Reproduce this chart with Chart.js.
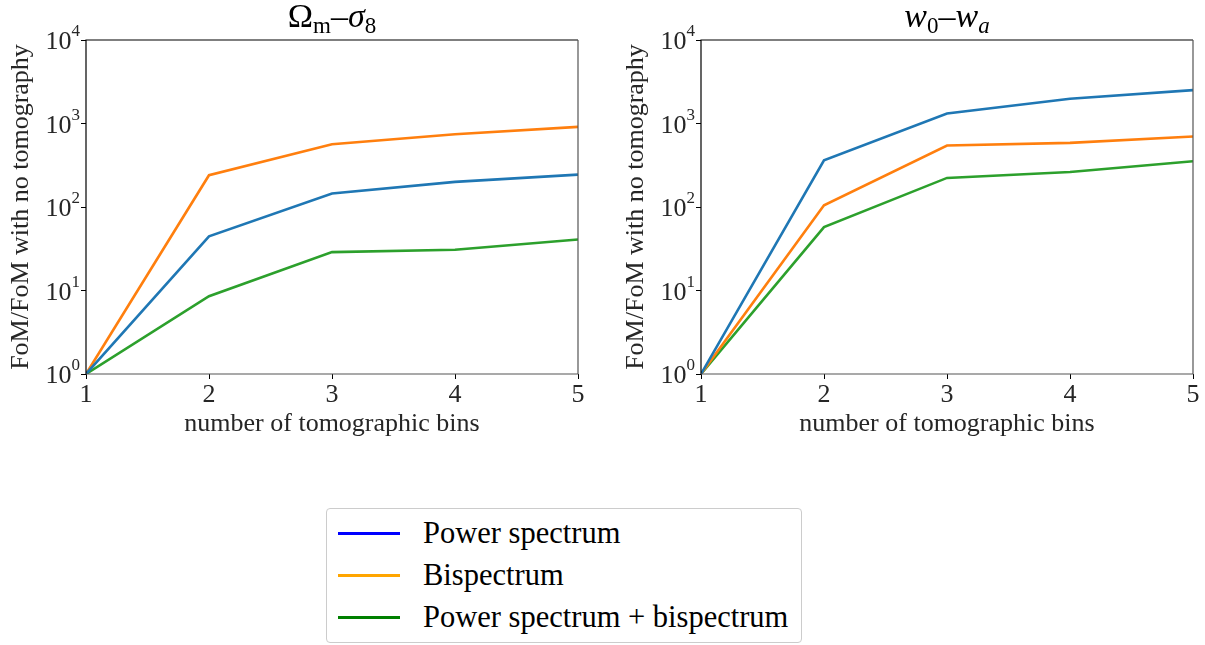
<!DOCTYPE html>
<html>
<head>
<meta charset="utf-8">
<script src="https://cdn.jsdelivr.net/npm/chart.js@4.4.1/dist/chart.umd.min.js"></script>
<style>
  html, body { margin: 0; padding: 0; background: #fff; width: 1205px; height: 645px; overflow: hidden; }
  .wrap { position: absolute; top: 0; width: 600px; height: 450px; }
  #legend { position: absolute; left: 326px; top: 508px; width: 474px; height: 133px;
    border: 1px solid #cccccc; border-radius: 4px; background: #fff;
    font-family: "Liberation Serif", "DejaVu Serif", serif; font-size: 30.5px; color: #000; }
  .row { position: absolute; left: 0; height: 32px; }
  .row .ln { position: absolute; left: 11px; width: 62px; height: 3px; top: 15px; }
  .row .tx { position: absolute; left: 96px; top: 0; white-space: nowrap; line-height: 32px; }
</style>
</head>
<body>
<div class="wrap" style="left:0px"><canvas id="c1" width="600" height="450"></canvas></div>
<div class="wrap" style="left:605px"><canvas id="c2" width="600" height="450"></canvas></div>
<div id="legend"></div>
<script>
// ---- data ----
const bins = [1, 2, 3, 4, 5];
const seriesNames = ["Power spectrum", "Bispectrum", "Power spectrum + bispectrum"];
const lineColors = ["#1f77b4", "#ff7f0e", "#2ca02c"];
const legendColors = ["#0000ff", "#ffa500", "#008000"];
const omPower = [1, 44.5, 145, 200, 244];
const omBi    = [1, 240, 565, 745, 912];
const omBoth  = [1, 8.55, 28.8, 30.8, 40.9];
const wPower  = [1, 363, 1318, 1977, 2512];
const wBi     = [1, 105, 545, 586, 698];
const wBoth   = [1, 57.5, 223, 263, 353];
const yTicks  = [1, 10, 100, 1000, 10000];
const yExps   = ["0", "1", "2", "3", "4"];
const xLabel = "number of tomographic bins";
const yLabel = "FoM/FoM with no tomography";
const title1 = [{t:"Ω"},{t:"m",sub:true},{t:"–"},{t:"σ",it:true},{t:"8",sub:true}];
const title2 = [{t:"w",it:true},{t:"0",sub:true},{t:"–"},{t:"w",it:true},{t:"a",sub:true,it:true}];

const FONT = '"Liberation Serif", "DejaVu Serif", serif';

function mkData(vals) {
  return vals.map((v, i) => ({ x: bins[i], y: v }));
}

const decoPlugin = {
  id: 'deco',
  afterDraw(chart, args, opts) {
    const ctx = chart.ctx;
    const a = chart.chartArea;
    const ys = chart.scales.y;
    ctx.save();
    // frame
    ctx.lineWidth = 1.2;
    ctx.strokeStyle = '#000';
    ctx.beginPath();
    ctx.moveTo(a.left, a.bottom); ctx.lineTo(a.left, a.top); ctx.lineTo(a.right, a.top);
    ctx.stroke();
    ctx.strokeStyle = '#555';
    ctx.beginPath();
    ctx.moveTo(a.right, a.top); ctx.lineTo(a.right, a.bottom); ctx.lineTo(a.left, a.bottom);
    ctx.stroke();
    // y tick labels 10^n
    ctx.fillStyle = '#262626';
    ctx.textBaseline = 'alphabetic';
    ys.ticks.forEach((tk) => {
      const py = ys.getPixelForValue(tk.value);
      const exp = yExps[yTicks.indexOf(tk.value)];
      if (exp === undefined) return;
      ctx.font = '17px ' + FONT;
      const ew = ctx.measureText(exp).width;
      ctx.font = '26px ' + FONT;
      const bw = ctx.measureText('10').width;
      const right = a.left - 6;
      ctx.fillText('10', right - ew - bw, py + 9);
      ctx.font = '17px ' + FONT;
      ctx.fillText(exp, right - ew, py - 4);
    });
    // title
    const pieces = opts.pieces;
    let total = 0;
    const fontOf = p => (p.it ? 'italic ' : '') + (p.sub ? '23px ' : '34px ') + FONT;
    pieces.forEach(p => { ctx.font = fontOf(p); p.w = ctx.measureText(p.t).width; total += p.w; });
    let x = (a.left + a.right) / 2 - total / 2;
    const base = 27;
    ctx.fillStyle = '#000';
    pieces.forEach(p => {
      ctx.font = fontOf(p);
      ctx.fillText(p.t, x, p.sub ? base + 6 : base);
      x += p.w;
    });
    ctx.restore();
  }
};

function makeChart(id, sets, pieces, padLeft, padRight, yTitlePad) {
  return new Chart(document.getElementById(id), {
    type: 'line',
    data: {
      datasets: sets.map((vals, i) => ({
        label: seriesNames[i],
        data: mkData(vals),
        borderColor: lineColors[i],
        backgroundColor: lineColors[i],
        borderWidth: 2.6,
        pointRadius: 0,
        tension: 0,
        fill: false
      }))
    },
    options: {
      responsive: false,
      animation: false,
      events: [],
      layout: { padding: { left: padLeft, right: padRight, top: 40, bottom: 0 } },
      plugins: {
        legend: { display: false },
        title: { display: false },
        tooltip: { enabled: false },
        deco: { pieces: pieces }
      },
      scales: {
        x: {
          type: 'linear', min: 1, max: 5,
          border: { display: false },
          grid: { drawOnChartArea: false, drawTicks: true, tickLength: 5, color: '#000', tickColor: '#000' },
          ticks: { stepSize: 1, color: '#262626', font: { family: FONT, size: 26 }, padding: 1, maxRotation: 0 },
          title: { display: true, text: xLabel, color: '#262626', font: { family: FONT, size: 26 }, padding: { top: 0, bottom: 10 } },
          afterFit(s) { s.height = 76; }
        },
        y: {
          type: 'logarithmic', min: 1, max: 10000,
          border: { display: false },
          afterBuildTicks(s) { s.ticks = yTicks.map(v => ({ value: v, major: true })); },
          grid: { drawOnChartArea: false, drawTicks: true, tickLength: 5, color: '#000', tickColor: '#000' },
          ticks: { display: true, color: 'rgba(0,0,0,0)', callback: () => '', font: { family: FONT, size: 23 } },
          title: { display: true, text: yLabel, color: '#262626', font: { family: FONT, size: 26 }, padding: { top: yTitlePad, bottom: 0 } },
          afterFit(s) { s.width = 86; }
        }
      }
    },
    plugins: [decoPlugin]
  });
}

makeChart('c1', [omPower, omBi, omBoth], title1, 0, 22, 6);
makeChart('c2', [wPower, wBi, wBoth], title2, 10, 12, 6);

// legend
const lg = document.getElementById('legend');
const rowTops = [8, 50, 92];
seriesNames.forEach((n, i) => {
  const r = document.createElement('div');
  r.className = 'row';
  r.style.top = rowTops[i] + 'px';
  r.innerHTML = '<div class="ln" style="background:' + legendColors[i] + '"></div><div class="tx">' + n + '</div>';
  lg.appendChild(r);
});
</script>
</body>
</html>
